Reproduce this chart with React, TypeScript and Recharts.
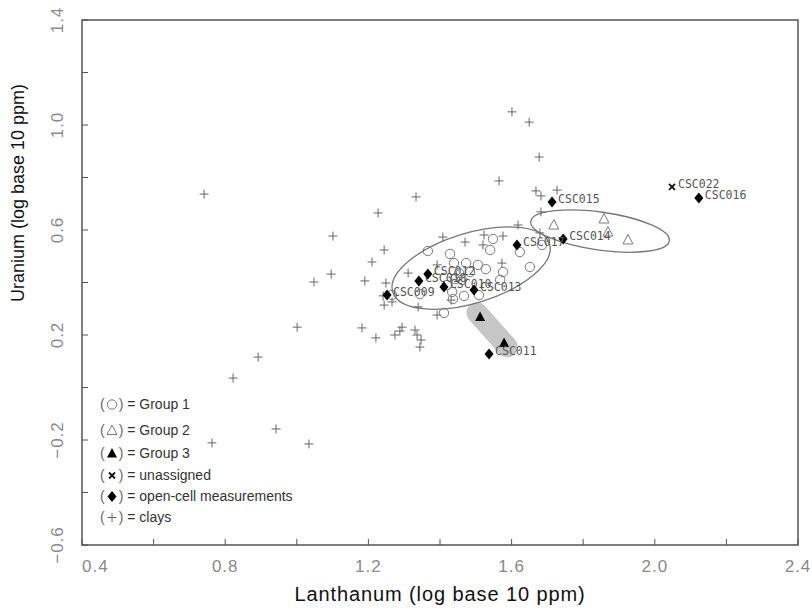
import { ScatterChart, Scatter, XAxis, YAxis, ReferenceArea, ReferenceLine, ReferenceDot, Legend, Label } from 'recharts'

// axis ticks (every 0.2, labelled every 0.4)
const xTicks = [0.4, 0.6, 0.8, 1.0, 1.2, 1.4, 1.6, 1.8, 2.0, 2.2, 2.4]
const xTickLabels = ['0.4', '', '0.8', '', '1.2', '', '1.6', '', '2.0', '', '2.4']
const yTicks = [-0.6, -0.4, -0.2, 0, 0.2, 0.4, 0.6, 0.8, 1.0, 1.2, 1.4]
const yTickLabels = ['−0.6', '', '−0.2', '', '0.2', '', '0.6', '', '1.0', '', '1.4']

// [La, U] pairs, log10 ppm
const clays = [
  [0.741, 0.737], [1.601, 1.05], [1.649, 1.011], [1.677, 0.878], [1.565, 0.787], [1.333, 0.726],
  [1.227, 0.665], [1.101, 0.577], [1.244, 0.524], [1.21, 0.478], [1.096, 0.432], [1.048, 0.402],
  [1.19, 0.406], [1.249, 0.398], [1.241, 0.349], [1.266, 0.326], [1.244, 0.314], [1.001, 0.23],
  [1.182, 0.227], [1.221, 0.189], [1.274, 0.2], [1.294, 0.23], [1.288, 0.215], [1.33, 0.219],
  [1.336, 0.2], [1.347, 0.181], [1.344, 0.154], [1.668, 0.749], [1.682, 0.73], [1.727, 0.752],
  [1.682, 0.669], [1.618, 0.619], [1.408, 0.573], [1.47, 0.554], [1.523, 0.581], [1.576, 0.577],
  [1.52, 0.543], [1.573, 0.474], [1.311, 0.436], [1.431, 0.333], [1.339, 0.307], [1.392, 0.276],
  [0.892, 0.116], [0.822, 0.036], [0.763, -0.211], [0.942, -0.158], [1.034, -0.215], [1.679, 0.589],
  [1.392, 0.467],
]
const group1 = [
  [1.366, 0.52], [1.548, 0.566], [1.54, 0.524], [1.428, 0.509], [1.439, 0.474], [1.473, 0.474],
  [1.506, 0.467], [1.528, 0.451], [1.453, 0.436], [1.484, 0.44], [1.576, 0.44], [1.623, 0.516],
  [1.685, 0.543], [1.651, 0.459], [1.442, 0.413], [1.461, 0.41], [1.568, 0.41], [1.344, 0.356],
  [1.434, 0.364], [1.467, 0.349], [1.509, 0.352], [1.436, 0.337], [1.411, 0.284], [1.266, 0.352],
  [1.42, 0.39],
]
const group2 = [[1.718, 0.619], [1.858, 0.642], [1.869, 0.592], [1.925, 0.562]]
const group3 = [[1.512, 0.269], [1.579, 0.17]]
const unassigned = [[2.048, 0.764]]
const unassignedLabels = ['CSC022']
const openCell = [
  [2.123, 0.722], [1.713, 0.707], [1.744, 0.566], [1.615, 0.543], [1.537, 0.128],
  [1.252, 0.352], [1.341, 0.406], [1.366, 0.432], [1.411, 0.383], [1.495, 0.371],
]
const openCellLabels = ['CSC016', 'CSC015', 'CSC014', 'CSC017', 'CSC011', 'CSC009', 'CSC018', 'CSC012', 'CSC010', 'CSC013']

const legendOrder = ['Group 1', 'Group 2', 'Group 3', 'unassigned', 'open-cell measurements', 'clays']
const legendRowHeights = [26, 25, 22, 21, 21, 21]

const toPoints = (arr: number[][], labels?: string[]) =>
  arr.map(([x, y], i) => ({ x, y, label: labels ? labels[i] : '' }))

const SANS = '"Liberation Sans", Arial, sans-serif'
const GREY = '#7a7a7a'

function Marker({ kind, cx, cy }: { kind: string; cx: number; cy: number }) {
  switch (kind) {
    case 'Group 1':
      return <circle cx={cx} cy={cy} r={4.7} fill="none" stroke={GREY} strokeWidth={1} />
    case 'Group 2':
      return <polygon points={`${cx},${cy - 5.5} ${cx + 5},${cy + 4} ${cx - 5},${cy + 4}`} fill="none" stroke={GREY} strokeWidth={1} />
    case 'Group 3':
      return <polygon points={`${cx},${cy - 5.5} ${cx + 5},${cy + 4} ${cx - 5},${cy + 4}`} fill="#000" />
    case 'unassigned':
      return (
        <g stroke="#111" strokeWidth={1.8}>
          <line x1={cx - 3} y1={cy - 3} x2={cx + 3} y2={cy + 3} />
          <line x1={cx - 3} y1={cy + 3} x2={cx + 3} y2={cy - 3} />
        </g>
      )
    case 'open-cell measurements':
      return <polygon points={`${cx},${cy - 5.5} ${cx + 4.5},${cy} ${cx},${cy + 5.5} ${cx - 4.5},${cy}`} fill="#000" />
    default:
      return (
        <g stroke="#666" strokeWidth={1}>
          <line x1={cx - 4.5} y1={cy} x2={cx + 4.5} y2={cy} />
          <line x1={cx} y1={cy - 4.5} x2={cx} y2={cy + 4.5} />
        </g>
      )
  }
}

const labelledShape = (kind: string) => (p: any) => (
  <g>
    <Marker kind={kind} cx={p.cx} cy={p.cy} />
    {p.payload?.label && (
      <text x={p.cx + 6} y={p.cy + 1} fontFamily='"DejaVu Sans Mono", monospace' fontSize={11.5} fill="#555">
        {p.payload.label}
      </text>
    )}
  </g>
)

function XTick({ x, y, payload }: any) {
  const i = xTicks.findIndex(t => Math.abs(t - payload.value) < 1e-6)
  const label = xTickLabels[i]
  return (
    <g>
      <line x1={x} y1={y} x2={x} y2={y - 6} stroke="#555" />
      {label && (
        <text x={x} y={y + 27} textAnchor={i === 0 ? 'start' : 'middle'} fontFamily={SANS} fontSize={17} letterSpacing={1} fill="#8a8a8a">
          {label}
        </text>
      )}
    </g>
  )
}

function YTick({ x, y, payload }: any) {
  const i = yTicks.findIndex(t => Math.abs(t - payload.value) < 1e-6)
  const label = yTickLabels[i]
  const lx = x - 19
  return (
    <g>
      <line x1={x} y1={y} x2={x + 6} y2={y} stroke="#555" />
      {label && (
        <text x={lx} y={y} transform={`rotate(-90 ${lx} ${y})`} textAnchor="middle" fontFamily={SANS} fontSize={17} letterSpacing={1} fill="#8a8a8a">
          {label}
        </text>
      )}
    </g>
  )
}

function LegendContent({ payload }: any) {
  const items = [...(payload || [])].sort((a: any, b: any) => legendOrder.indexOf(a.value) - legendOrder.indexOf(b.value))
  return (
    <div style={{ fontFamily: SANS, fontSize: 14, color: '#333' }}>
      {items.map((it: any, i: number) => (
        <div key={it.value} style={{ height: legendRowHeights[i], display: 'flex', alignItems: 'center', whiteSpace: 'nowrap' }}>
          <span style={{ color: '#666' }}>(</span>
          <svg width={12} height={12} style={{ margin: '0 1px' }}>
            <Marker kind={it.value} cx={6} cy={6.5} />
          </svg>
          <span style={{ color: '#666' }}>)</span>
          <span>&nbsp;= {it.value}</span>
        </div>
      ))}
    </div>
  )
}

export default function App() {
  return (
    <div style={{ position: 'absolute', left: 0, top: 0, width: 812, height: 610, background: '#fff' }}>
      <ScatterChart width={812} height={610} margin={{ top: 20, right: 14, bottom: 0, left: 0 }}>
        <XAxis
          type="number"
          dataKey="x"
          domain={[0.4, 2.4]}
          ticks={xTicks}
          interval={0}
          height={65}
          axisLine={false}
          tickLine={false}
          tickSize={0}
          tickMargin={0}
          tick={<XTick />}
        >
          <Label
            content={({ viewBox }: any) => (
              <text x={viewBox.x + viewBox.width / 2} y={601} textAnchor="middle" fontFamily={SANS} fontSize={20} letterSpacing={0.9} fill="#111">
                Lanthanum (log base 10 ppm)
              </text>
            )}
          />
        </XAxis>
        <YAxis
          type="number"
          dataKey="y"
          domain={[-0.6, 1.4]}
          ticks={yTicks}
          interval={0}
          width={82}
          axisLine={false}
          tickLine={false}
          tickSize={0}
          tickMargin={0}
          tick={<YTick />}
        >
          <Label
            content={() => (
              <text x={24} y={193} transform="rotate(-90 24 193)" textAnchor="middle" fontFamily={SANS} fontSize={18} fill="#111">
                Uranium (log base 10 ppm)
              </text>
            )}
          />
        </YAxis>
        <ReferenceArea x1={0.4} x2={2.4} y1={-0.6} y2={1.4} fill="none" stroke="#555" strokeWidth={1.5} />
        <ReferenceLine
          segment={[{ x: 1.503, y: 0.285 }, { x: 1.588, y: 0.155 }]}
          shape={(p: any) => (
            <line x1={p.x1} y1={p.y1} x2={p.x2} y2={p.y2} stroke="#c6c6c6" strokeWidth={21} strokeLinecap="round" />
          )}
        />
        <ReferenceDot
          x={1.487}
          y={0.455}
          shape={(p: any) => (
            <ellipse cx={p.cx} cy={p.cy} rx={82} ry={35} transform={`rotate(-17 ${p.cx} ${p.cy})`} fill="none" stroke="#777" strokeWidth={1.3} />
          )}
        />
        <ReferenceDot
          x={1.847}
          y={0.596}
          shape={(p: any) => (
            <ellipse cx={p.cx} cy={p.cy} rx={70} ry={19} transform={`rotate(8 ${p.cx} ${p.cy})`} fill="none" stroke="#777" strokeWidth={1.3} />
          )}
        />
        <Scatter name="clays" data={toPoints(clays)} shape={labelledShape('clays')} isAnimationActive={false} />
        <Scatter name="Group 1" data={toPoints(group1)} shape={labelledShape('Group 1')} isAnimationActive={false} />
        <Scatter name="Group 2" data={toPoints(group2)} shape={labelledShape('Group 2')} isAnimationActive={false} />
        <Scatter name="Group 3" data={toPoints(group3)} shape={labelledShape('Group 3')} isAnimationActive={false} />
        <Scatter name="unassigned" data={toPoints(unassigned, unassignedLabels)} shape={labelledShape('unassigned')} isAnimationActive={false} />
        <Scatter name="open-cell measurements" data={toPoints(openCell, openCellLabels)} shape={labelledShape('open-cell measurements')} isAnimationActive={false} />
        <Legend
          layout="vertical"
          align="center"
          verticalAlign="middle"
          content={<LegendContent />}
          wrapperStyle={{ left: 100, top: 391, width: 240 }}
        />
      </ScatterChart>
    </div>
  )
}
